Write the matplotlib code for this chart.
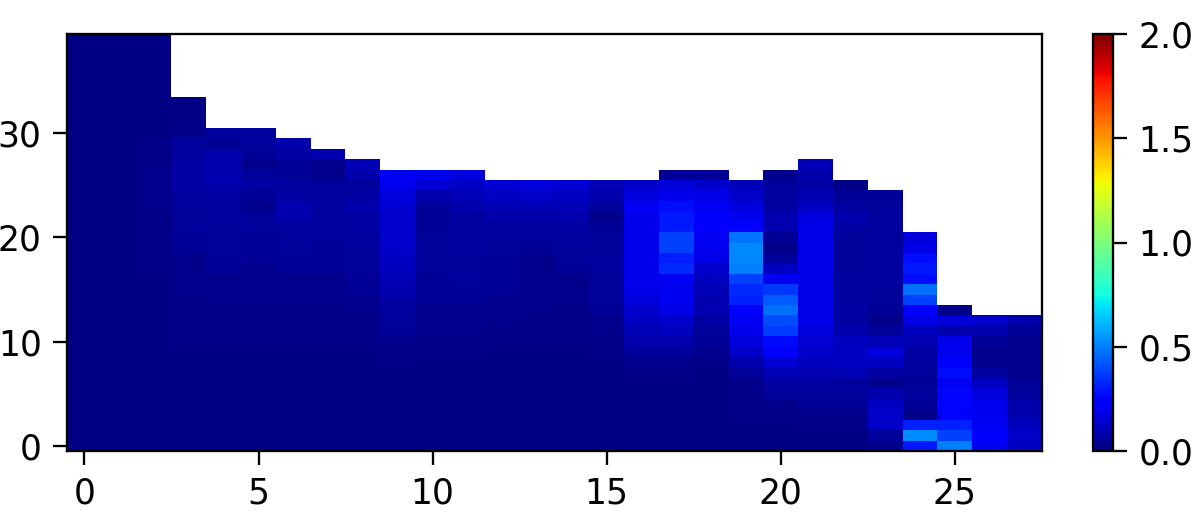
import matplotlib
matplotlib.use("Agg")
import matplotlib.pyplot as plt
import numpy as np

# each column listed from row 0 upward, the list length is the column height
c00 = [.01,.01,.01,.01,.01,.01,.01,.01,.01,.01, .01,.01,.01,.01,.01,.01,.01,.01,.01,.01, .01,.01,.01,.01,.01,.01,.01,.01,.01,.01, .01,.01,.01,.01,.01,.01,.01,.01,.01,.01]
c01 = [.01,.01,.01,.01,.01,.01,.01,.01,.01,.01, .01,.01,.01,.01,.01,.01,.01,.01,.01,.01, .01,.01,.01,.01,.01,.01,.01,.01,.01,.01, .01,.01,.01,.01,.01,.01,.01,.01,.01,.01]
c02 = [.01,.01,.01,.01,.01,.01,.01,.01,.01,.01, .01,.01,.01,.01,.01,.01,.01,.02,.02,.02, .02,.02,.02,.03,.03,.03,.03,.02,.02,.02, .01,.01,.01,.01,.01,.01,.01,.01,.01,.01]
c03 = [.01,.01,.01,.01,.01,.01,.01,.01,.01,.01, .02,.02,.02,.02,.02,.03,.03,.03,.03,.04, .04,.05,.05,.05,.06,.07,.07,.07,.06,.05, .02,.02,.01,.01]
c04 = [.01,.01,.01,.01,.01,.01,.01,.01,.01,.01, .02,.02,.02,.02,.03,.03,.03,.04,.04,.05, .05,.05,.06,.06,.07,.08,.09,.08,.08,.04, .06]
c05 = [.01,.01,.01,.01,.01,.01,.01,.01,.01,.01, .02,.02,.02,.02,.03,.03,.03,.03,.04,.04, .04,.05,.05,.03,.04,.07,.05,.03,.04,.05, .06]
c06 = [.01,.01,.01,.01,.01,.01,.01,.01,.01,.01, .02,.02,.02,.02,.03,.03,.03,.04,.04,.05, .05,.06,.08,.09,.07,.06,.04,.04,.07,.08]
c07 = [.01,.01,.01,.01,.01,.01,.01,.01,.01,.01, .02,.02,.02,.02,.03,.03,.03,.04,.04,.04, .05,.06,.06,.06,.06,.05,.03,.03,.09]
c08 = [.01,.01,.01,.01,.01,.01,.01,.01,.01,.01, .02,.02,.02,.03,.03,.04,.04,.05,.05,.05, .06,.07,.07,.08,.07,.05,.08,.10]
c09 = [.01,.01,.01,.01,.01,.01,.01,.01,.02,.02, .03,.04,.05,.06,.07,.09,.10,.11,.12,.13, .14,.14,.14,.15,.17,.20,.21]
c10 = [.01,.01,.01,.01,.01,.01,.01,.01,.01,.02, .02,.03,.03,.03,.04,.04,.04,.05,.05,.05, .05,.04,.04,.05,.08,.15,.20]
c11 = [.01,.01,.01,.01,.01,.01,.01,.01,.01,.02, .02,.03,.03,.03,.04,.04,.05,.05,.05,.06, .06,.06,.06,.08,.10,.13,.17]
c12 = [.01,.01,.01,.01,.01,.01,.01,.01,.01,.01, .02,.02,.03,.03,.03,.04,.04,.04,.04,.05, .05,.06,.08,.10,.12,.15]
c13 = [.01,.01,.01,.01,.01,.01,.01,.01,.01,.01, .02,.02,.02,.03,.03,.03,.03,.03,.03,.04, .05,.06,.08,.10,.13,.16]
c14 = [.01,.01,.01,.01,.01,.01,.01,.01,.01,.01, .02,.02,.02,.02,.03,.03,.03,.04,.05,.05, .06,.07,.08,.10,.12,.15]
c15 = [.01,.01,.01,.01,.01,.01,.01,.01,.01,.02, .02,.03,.03,.04,.05,.05,.05,.06,.06,.05, .05,.04,.03,.05,.08,.10]
c16 = [.01,.01,.01,.01,.01,.01,.01,.02,.03,.05, .08,.10,.12,.14,.16,.18,.19,.19,.19,.19, .19,.19,.19,.21,.17,.13]
c17 = [.01,.01,.01,.01,.01,.01,.01,.02,.03,.05, .08,.11,.14,.18,.20,.20,.21,.33,.31,.38, .38,.30,.30,.28,.19,.16,.04]
c18 = [.01,.01,.01,.01,.01,.01,.01,.01,.02,.03, .04,.05,.07,.09,.09,.10,.11,.14,.18,.20, .21,.23,.23,.21,.18,.14,.04]
c19 = [.01,.01,.01,.02,.02,.02,.03,.05,.08,.13, .17,.19,.21,.22,.32,.33,.38,.50,.52,.52, .48,.23,.20,.17,.13,.10]
c20 = [.01,.01,.01,.02,.03,.05,.07,.10,.15,.22, .27,.37,.40,.47,.43,.36,.20,.12,.05,.02, .04,.08,.09,.06,.06,.05,.03]
c21 = [.01,.01,.02,.03,.04,.05,.07,.09,.11,.13, .15,.17,.18,.18,.18,.18,.18,.18,.18,.18, .18,.18,.17,.12,.09,.07,.08,.10]
c22 = [.01,.01,.02,.03,.04,.05,.06,.10,.12,.12, .11,.08,.07,.07,.06,.06,.06,.05,.05,.05, .05,.07,.08,.06,.04,.02]
c23 = [.03,.05,.13,.13,.12,.08,.03,.07,.12,.17, .10,.05,.03,.04,.05,.05,.06,.06,.06,.06, .06,.06,.06,.05,.04]
c24 = [.30,.53,.32,.02,.04,.05,.04,.05,.06,.07, .09,.11,.18,.22,.38,.47,.28,.30,.28,.18, .17]
c25 = [.50,.38,.32,.24,.26,.26,.21,.28,.22,.20, .19,.08,.16,.02]
c26 = [.20,.22,.21,.20,.20,.17,.12,.06,.03,.03, .04,.09,.13]
c27 = [.12,.13,.11,.08,.08,.05,.04,.03,.03,.03, .03,.04,.08]

columns = [c00, c01, c02, c03, c04, c05, c06, c07, c08, c09, c10, c11, c12, c13,
           c14, c15, c16, c17, c18, c19, c20, c21, c22, c23, c24, c25, c26, c27]
x_ticks = [0, 5, 10, 15, 20, 25]
y_ticks = [0, 10, 20, 30]
cbar_ticks = [0.0, 0.5, 1.0, 1.5, 2.0]

grid = np.full((40, len(columns)), np.nan)
for i, col in enumerate(columns):
    grid[:len(col), i] = col

W, H = 1196, 519
dpi = 166
plt.rcParams["font.size"] = 15
plt.rcParams["axes.linewidth"] = 1.0
for side in ["xtick", "ytick"]:
    plt.rcParams[side + ".major.size"] = 6
    plt.rcParams[side + ".major.width"] = 1.0
    plt.rcParams[side + ".major.pad"] = 5

fig = plt.figure(figsize=(W / dpi, H / dpi), dpi=dpi)
ax = fig.add_axes([67 / W, 1 - 451 / H, (1042 - 67) / W, (451 - 34) / H])
im = ax.imshow(grid, origin="lower", aspect="auto", cmap="jet", vmin=0, vmax=2,
               interpolation="nearest")
ax.set_xticks(x_ticks)
ax.set_yticks(y_ticks)

cax = fig.add_axes([1093 / W, 1 - 451 / H, 20 / W, (451 - 34) / H])
cbar = fig.colorbar(im, cax=cax, ticks=cbar_ticks)
cbar.ax.set_yticklabels(["%.1f" % t for t in cbar_ticks])

fig.savefig("out.png", dpi=dpi)
